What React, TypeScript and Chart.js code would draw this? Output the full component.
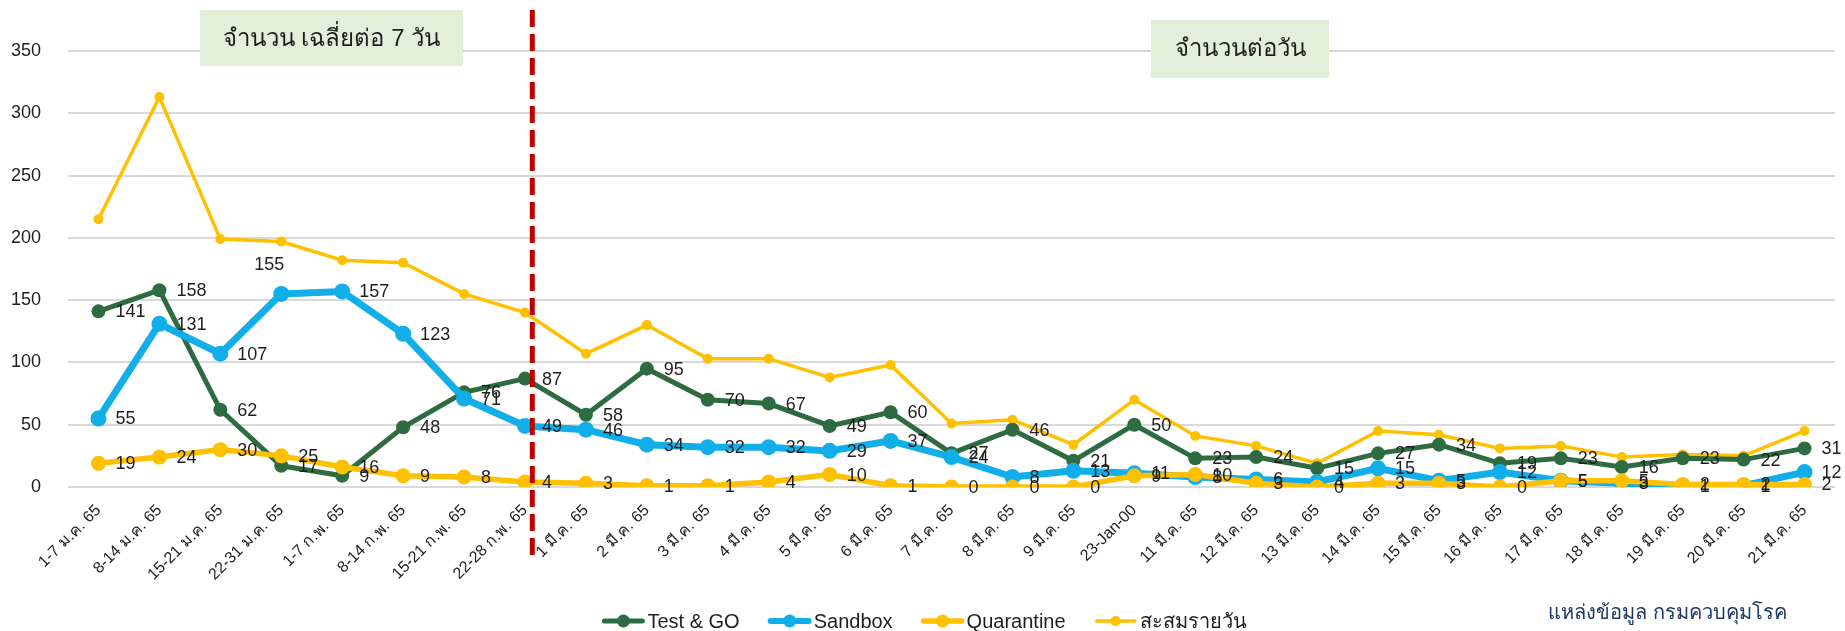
import React, { useEffect, useRef } from 'react';
import { Chart, registerables } from 'chart.js';

Chart.register(...registerables);

const categories = [
  '1-7 ม.ค. 65', '8-14 ม.ค. 65', '15-21 ม.ค. 65', '22-31 ม.ค. 65',
  '1-7 ก.พ. 65', '8-14 ก.พ. 65', '15-21 ก.พ. 65', '22-28 ก.พ. 65',
  '1 มี.ค. 65', '2 มี.ค. 65', '3 มี.ค. 65', '4 มี.ค. 65', '5 มี.ค. 65',
  '6 มี.ค. 65', '7 มี.ค. 65', '8 มี.ค. 65', '9 มี.ค. 65', '23-Jan-00',
  '11 มี.ค. 65', '12 มี.ค. 65', '13 มี.ค. 65', '14 มี.ค. 65', '15 มี.ค. 65',
  '16 มี.ค. 65', '17 มี.ค. 65', '18 มี.ค. 65', '19 มี.ค. 65', '20 มี.ค. 65',
  '21 มี.ค. 65',
];

const testAndGo = [141, 158, 62, 17, 9, 48, 76, 87, 58, 95, 70, 67, 49, 60, 27, 46, 21, 50, 23, 24, 15, 27, 34, 19, 23, 16, 23, 22, 31];
const sandbox = [55, 131, 107, 155, 157, 123, 71, 49, 46, 34, 32, 32, 29, 37, 24, 8, 13, 11, 8, 6, 4, 15, 5, 12, 5, 3, 1, 1, 12];
const quarantine = [19, 24, 30, 25, 16, 9, 8, 4, 3, 1, 1, 4, 10, 1, 0, 0, 0, 9, 10, 3, 0, 3, 3, 0, 5, 5, 2, 2, 2];
const dailyTotal = [215, 313, 199, 197, 182, 180, 155, 140, 107, 130, 103, 103, 88, 98, 51, 54, 34, 70, 41, 33, 19, 45, 42, 31, 33, 24, 26, 25, 45];

const seriesNames = ['Test & GO', 'Sandbox', 'Quarantine', 'สะสมรายวัน'];
const yTicks = [0, 50, 100, 150, 200, 250, 300, 350];

const titleLeft = 'จำนวน เฉลี่ยต่อ 7 วัน';
const titleRight = 'จำนวนต่อวัน';
const sourceText = 'แหล่งข้อมูล กรมควบคุมโรค';

const FONT = "Tahoma, 'Liberation Sans', 'Noto Sans', sans-serif";
const GREEN = '#2E6B40';
const BLUE = '#12AEEA';
const GOLD = '#FFC000';
const TEXT = '#1E1E1E';

export default function App() {
  const ref = useRef<HTMLCanvasElement | null>(null);

  useEffect(() => {
    document.body.style.margin = '0';
    const canvas = ref.current;
    if (!canvas) return;

    const overlay = {
      id: 'overlay',
      beforeDatasetsDraw(chart: any) {
        const ctx = chart.ctx;
        ctx.save();
        ctx.fillStyle = '#E2EFDA';
        ctx.fillRect(200, 10, 263, 56);
        ctx.fillRect(1151, 20, 178, 58);
        ctx.fillStyle = TEXT;
        ctx.font = `500 24px ${FONT}`;
        ctx.textAlign = 'center';
        ctx.textBaseline = 'middle';
        ctx.fillText(titleLeft, 331.5, 39);
        ctx.fillText(titleRight, 1240, 49);
        ctx.restore();
      },
      afterDatasetsDraw(chart: any) {
        const ctx = chart.ctx;
        const xs = chart.scales.x;
        const xr = xs.getPixelForValue(7.12);
        ctx.save();
        ctx.strokeStyle = '#C00000';
        ctx.lineWidth = 5;
        ctx.setLineDash([17, 7]);
        ctx.beginPath();
        ctx.moveTo(xr, 10);
        ctx.lineTo(xr, 556);
        ctx.stroke();
        ctx.setLineDash([]);

        ctx.font = `18px ${FONT}`;
        ctx.fillStyle = TEXT;
        ctx.textBaseline = 'middle';
        for (let d = 0; d < 3; d++) {
          const meta = chart.getDatasetMeta(d);
          const vals = chart.data.datasets[d].data;
          meta.data.forEach((pt: any, j: number) => {
            if (d === 1 && j === 3) {
              ctx.textAlign = 'center';
              ctx.fillText(String(vals[j]), pt.x - 12, pt.y - 29);
            } else {
              ctx.textAlign = 'left';
              ctx.fillText(String(vals[j]), pt.x + 17, pt.y + 1);
            }
          });
        }
        ctx.restore();
      },
      afterDraw(chart: any) {
        const ctx = chart.ctx;
        ctx.save();
        ctx.font = `20px ${FONT}`;
        ctx.textBaseline = 'middle';
        ctx.textAlign = 'left';
        const markerW = 44;
        const gapText = 2;
        const gapItem = 28;
        const widths = chart.data.datasets.map((ds: any) => ctx.measureText(ds.label).width);
        const total = widths.reduce((a: number, w: number) => a + markerW + gapText + w, 0) + gapItem * (widths.length - 1);
        let x = 924 - total / 2;
        const y = 621;
        chart.data.datasets.forEach((ds: any, i: number) => {
          ctx.strokeStyle = ds.borderColor;
          ctx.lineWidth = Math.min(ds.borderWidth, 6);
          ctx.lineCap = 'round';
          ctx.beginPath();
          ctx.moveTo(x + 3, y);
          ctx.lineTo(x + markerW - 3, y);
          ctx.stroke();
          ctx.fillStyle = ds.pointBackgroundColor;
          ctx.beginPath();
          ctx.arc(x + markerW / 2, y, i === 3 ? 5 : 6.5, 0, Math.PI * 2);
          ctx.fill();
          ctx.fillStyle = TEXT;
          ctx.fillText(ds.label, x + markerW + gapText, y + 1);
          x += markerW + gapText + widths[i] + gapItem;
        });
        ctx.fillStyle = '#1F3864';
        ctx.fillText(sourceText, 1548, 613);
        ctx.restore();
      },
    };

    const chart = new Chart(canvas, {
      type: 'line',
      data: {
        labels: categories,
        datasets: [
          {
            label: seriesNames[0], data: testAndGo, borderColor: GREEN, backgroundColor: GREEN,
            pointBackgroundColor: GREEN, borderWidth: 5, pointRadius: 7, pointBorderWidth: 0, order: 2,
          },
          {
            label: seriesNames[1], data: sandbox, borderColor: BLUE, backgroundColor: BLUE,
            pointBackgroundColor: BLUE, borderWidth: 7, pointRadius: 8, pointBorderWidth: 0, order: 1,
          },
          {
            label: seriesNames[2], data: quarantine, borderColor: GOLD, backgroundColor: GOLD,
            pointBackgroundColor: GOLD, borderWidth: 5.5, pointRadius: 7.5, pointBorderWidth: 0, order: 0,
          },
          {
            label: seriesNames[3], data: dailyTotal, borderColor: GOLD, backgroundColor: GOLD,
            pointBackgroundColor: GOLD, borderWidth: 3.5, pointRadius: 5, pointBorderWidth: 0, order: 3,
          },
        ],
      },
      options: {
        responsive: false,
        animation: false,
        devicePixelRatio: 1,
        events: [],
        layout: { padding: { top: 51, right: 10, left: 0, bottom: 0 } },
        plugins: { legend: { display: false }, tooltip: { enabled: false } },
        scales: {
          x: {
            offset: true,
            grid: { display: false },
            border: { display: false },
            ticks: {
              autoSkip: false, maxRotation: 45, minRotation: 45, padding: 6,
              color: TEXT, font: { size: 16, family: FONT },
            },
            afterFit: (s: any) => { s.height = 144; },
          },
          y: {
            min: 0, max: 350,
            afterBuildTicks: (s: any) => { s.ticks = yTicks.map((v) => ({ value: v })); },
            grid: { color: '#D9D9D9', lineWidth: 2, drawTicks: false },
            border: { display: false },
            ticks: { padding: 27, color: TEXT, font: { size: 18, family: FONT } },
            afterFit: (s: any) => { s.width = 68; },
          },
        },
      },
      plugins: [overlay],
    });

    return () => chart.destroy();
  }, []);

  return (
    <div style={{ width: 1845, height: 631, position: 'relative' }}>
      <canvas ref={ref} width={1845} height={631} style={{ display: 'block' }} />
    </div>
  );
}
